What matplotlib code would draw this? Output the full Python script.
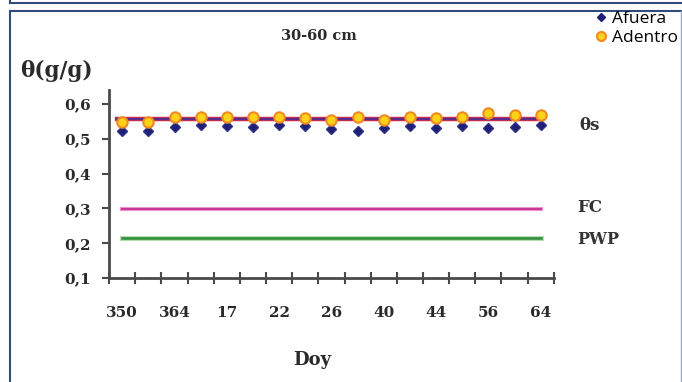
import matplotlib
matplotlib.use("Agg")
import matplotlib.pyplot as plt
from matplotlib.lines import Line2D

# Day-of-year categories (labels only on every other point)
doy_labels = ["350", "", "364", "", "17", "", "22", "", "26", "", "40", "", "44", "", "56", "", "64"]

# Soil moisture 30-60 cm (g/g)
afuera = [0.523, 0.523, 0.535, 0.541, 0.537, 0.535, 0.541, 0.537, 0.528,
          0.523, 0.532, 0.537, 0.532, 0.537, 0.532, 0.535, 0.539]
adentro = [0.549, 0.549, 0.564, 0.564, 0.564, 0.564, 0.564, 0.559, 0.554,
           0.564, 0.554, 0.564, 0.559, 0.564, 0.574, 0.569, 0.570]

# Reference levels
theta_s = 0.558
fc = 0.298
pwp = 0.215

serif = ["DejaVu Serif"]
x = list(range(len(doy_labels)))

fig = plt.figure(figsize=(6.82, 3.82), dpi=100)
ax = fig.add_axes([0.16, 0.272, 0.652, 0.492])

# horizontal reference lines
ax.plot([x[0] - 0.2, x[-1]], [theta_s, theta_s], color="#d0304a", lw=3.2, zorder=2)
ax.plot([x[0] - 0.2, x[-1]], [theta_s, theta_s], color="#5b2a8c", lw=1.6, zorder=2)
ax.plot([x[0], x[-1]], [fc, fc], color="#f0a0d0", lw=3.0, zorder=2)
ax.plot([x[0], x[-1]], [fc, fc], color="#c8389a", lw=1.6, zorder=2)
ax.plot([x[0], x[-1]], [pwp, pwp], color="#a8d8a0", lw=3.4, zorder=2)
ax.plot([x[0], x[-1]], [pwp, pwp], color="#2e8b3a", lw=1.8, zorder=2)

ax.plot(x, afuera, linestyle="none", marker="D", markersize=5.5,
        color="#1f1f78", markeredgecolor="#30308a", zorder=3)
ax.plot(x, adentro, linestyle="none", marker="o", markersize=7.5,
        markerfacecolor="#ffd21a", markeredgecolor="#f08a20", markeredgewidth=1.5, zorder=4)

ax.set_xlim(-0.5, len(x) - 0.5)
ax.set_ylim(0.1, 0.64)
ax.set_yticks([0.1, 0.2, 0.3, 0.4, 0.5, 0.6])
ax.set_yticklabels(["0,1", "0,2", "0,3", "0,4", "0,5", "0,6"])
ax.set_xticks(x)
ax.set_xticklabels(doy_labels)
ax.set_xticks([i - 0.5 for i in range(len(x) + 1)], minor=True)

for s in ["top", "right"]:
    ax.spines[s].set_visible(False)
for s in ["left", "bottom"]:
    ax.spines[s].set_color("#4a4a4a")
    ax.spines[s].set_linewidth(2)

ax.tick_params(axis="x", which="major", length=0, pad=20)
ax.tick_params(axis="x", which="minor", length=8, width=1.5, direction="inout", color="#4a4a4a")
ax.tick_params(axis="y", length=5, width=1.5, direction="out", color="#4a4a4a", pad=8)
for lab in ax.get_xticklabels() + ax.get_yticklabels():
    lab.set_fontfamily(serif)
    lab.set_fontweight("bold")
    lab.set_fontsize(11)
    lab.set_color("#2a2a2a")

ax.set_facecolor("none")

# text labels around the plot
fig.text(0.468, 0.905, "30-60 cm", family=serif, weight="bold", fontsize=10.5,
         ha="center", va="center", color="#2a2a2a")
fig.text(0.03, 0.815, "θ(g/g)", family=serif, weight="bold", fontsize=15.5,
         ha="left", va="center", color="#2a2a2a")
fig.text(0.458, 0.058, "Doy", family=serif, weight="bold", fontsize=13,
         ha="center", va="center", color="#2a2a2a")
fig.text(0.849, 0.672, "θs", family=serif, weight="bold", fontsize=12,
         ha="left", va="center", color="#333333")
fig.text(0.847, 0.457, "FC", family=serif, weight="bold", fontsize=12,
         ha="left", va="center", color="#333333")
fig.text(0.846, 0.372, "PWP", family=serif, weight="bold", fontsize=11.5,
         ha="left", va="center", color="#333333")

# legend in the top right corner
handles = [
    Line2D([], [], linestyle="none", marker="D", markersize=4.5,
           color="#1f1f78"),
    Line2D([], [], linestyle="none", marker="o", markersize=6.5,
           markerfacecolor="#ffd21a", markeredgecolor="#f08a20", markeredgewidth=1.5),
]
fig.legend(handles, ["Afuera", "Adentro"], loc="upper left",
           bbox_to_anchor=(0.875, 0.972), frameon=False,
           prop={"family": "Open Sans", "size": 12.5}, handlelength=0.5,
           handletextpad=0.35, labelspacing=0.15, borderaxespad=0, borderpad=0)

# outer frame
frame_col = "#2f4c7a"
fig.add_artist(Line2D([10 / 682, 1], [1 - 3 / 382, 1 - 3 / 382], color=frame_col, lw=1.5))
fig.add_artist(Line2D([10 / 682, 10 / 682], [1, 1 - 3 / 382], color=frame_col, lw=1.5))
fig.add_artist(Line2D([10 / 682, 1], [1 - 11 / 382, 1 - 11 / 382], color=frame_col, lw=1.5))
fig.add_artist(Line2D([10 / 682, 10 / 682], [1 - 11 / 382, 0], color=frame_col, lw=1.5))
fig.add_artist(Line2D([681 / 682, 681 / 682], [1 - 11 / 382, 0], color="#9aa8c0", lw=1.0))

fig.savefig("out.png", dpi=100)
